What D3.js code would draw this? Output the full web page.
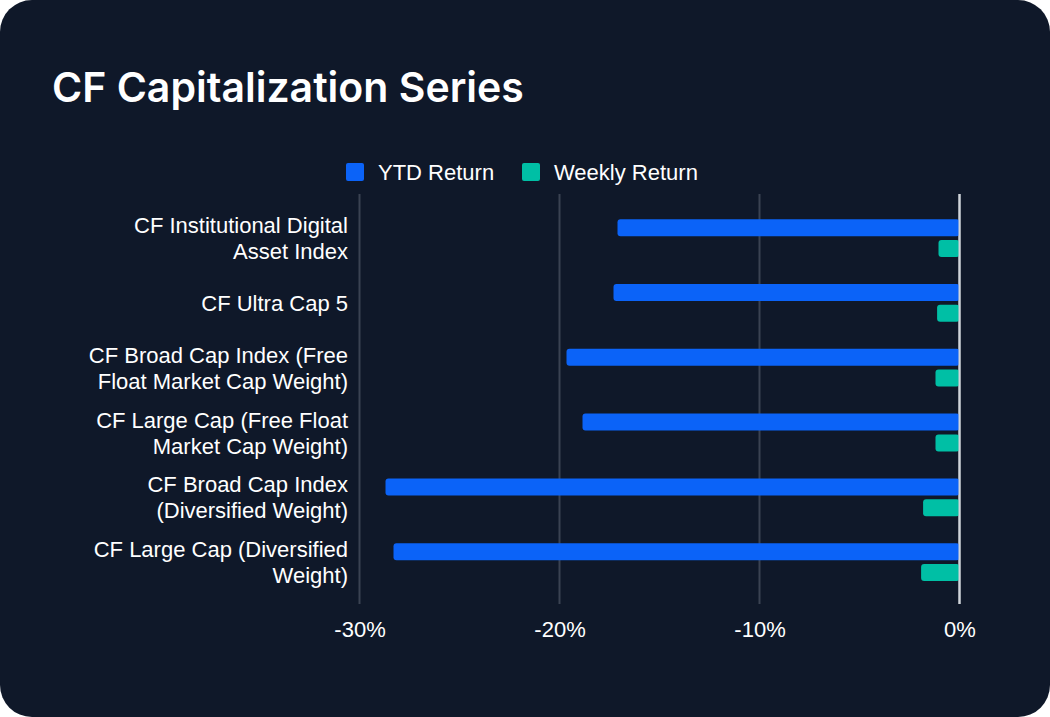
<!DOCTYPE html>
<html><head><meta charset="utf-8">
<script src="https://cdn.jsdelivr.net/npm/d3@7"></script>
<style>
html,body{margin:0;padding:0;background:#ffffff;}
svg{display:block;}
</style></head>
<body>
<svg id="chart" width="1050" height="717"></svg>
<script>
const categories = [
  ["CF Institutional Digital", "Asset Index"],
  ["CF Ultra Cap 5"],
  ["CF Broad Cap Index (Free", "Float Market Cap Weight)"],
  ["CF Large Cap (Free Float", "Market Cap Weight)"],
  ["CF Broad Cap Index", "(Diversified Weight)"],
  ["CF Large Cap (Diversified", "Weight)"]
];
const ytdReturn = [-17.1, -17.3, -19.65, -18.85, -28.7, -28.3];
const weeklyReturn = [-1.05, -1.12, -1.2, -1.2, -1.82, -1.92];
const tickValues = [-30, -20, -10, 0];
const seriesNames = ["YTD Return", "Weekly Return"];
const seriesColors = ["#0b63f8", "#00bfa5"];

const W = 1050, H = 717;
const FONT = "Arial, 'Liberation Sans', Helvetica, sans-serif";
const svg = d3.select("#chart");
svg.append("rect").attr("x",0).attr("y",0).attr("width",W).attr("height",H)
  .attr("rx",32).attr("ry",32).attr("fill","#0f1829");

svg.append("text").attr("x",52).attr("y",102)
  .attr("font-family","Inter, 'Noto Sans', sans-serif").attr("font-weight",600)
  .attr("font-size",41).attr("fill","#ffffff").text("CF Capitalization Series");

const x = d3.scaleLinear().domain([-30, 0]).range([359.5, 959.5]);
const y = d3.scaleBand().domain(d3.range(categories.length)).range([205.8, 594.6]);
const grid = svg.append("g");
const gTop = 194, gBot = 604;
tickValues.forEach(t => {
  grid.append("line").attr("x1",x(t)).attr("x2",x(t)).attr("y1",gTop).attr("y2",gBot)
    .attr("stroke", t===0 ? "#d0d4da" : "#3a4252").attr("stroke-width", 2);
});
const xAxis = d3.axisBottom(x).tickValues(tickValues).tickFormat(d => d + "%").tickSize(0);
const ax = svg.append("g").attr("transform",`translate(0,${gBot})`).call(xAxis);
ax.select(".domain").remove();
ax.selectAll("text").attr("font-family",FONT)
  .attr("font-size",22).attr("fill","#ffffff").attr("y",33).attr("dy",0);

const barH = 17;
const bars = svg.append("g");
categories.forEach((c, i) => {
  const cy = y(i) + y.bandwidth()/2;
  bars.append("rect").attr("x", x(ytdReturn[i])).attr("y", cy - 19)
    .attr("width", x(0) - x(ytdReturn[i])).attr("height", barH)
    .attr("rx",3).attr("fill", seriesColors[0]);
  bars.append("rect").attr("x", x(weeklyReturn[i])).attr("y", cy + 1.8)
    .attr("width", x(0) - x(weeklyReturn[i])).attr("height", barH)
    .attr("rx",3).attr("fill", seriesColors[1]);
  const lh = 26;
  const t = svg.append("text").attr("text-anchor","end")
    .attr("font-family",FONT).attr("font-size",22)
    .attr("fill","#ffffff");
  c.forEach((line, k) => {
    t.append("tspan").attr("x",348)
      .attr("y", cy + (k - (c.length-1)/2) * lh + 8).text(line);
  });
});
// redraw zero line above bars
svg.append("line").attr("x1",x(0)).attr("x2",x(0)).attr("y1",gTop).attr("y2",gBot)
  .attr("stroke","#d0d4da").attr("stroke-width",2);

// legend
const legend = svg.append("g");
const legX = [346, 522];
seriesNames.forEach((n, i) => {
  legend.append("rect").attr("x",legX[i]).attr("y",163).attr("width",18).attr("height",18)
    .attr("rx",2).attr("fill",seriesColors[i]);
  legend.append("text").attr("x",legX[i]+32).attr("y",180)
    .attr("font-family",FONT).attr("font-size",22)
    .attr("fill","#ffffff").text(n);
});
</script>
</body></html>
